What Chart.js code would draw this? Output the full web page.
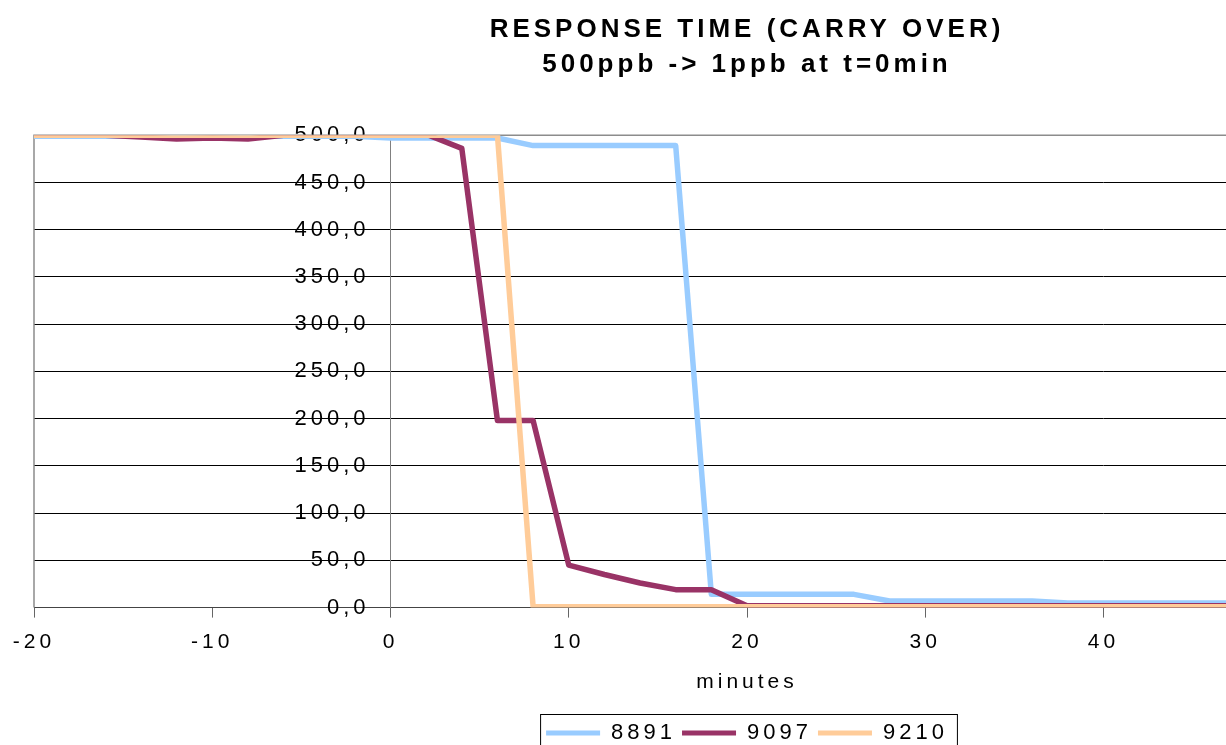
<!DOCTYPE html>
<html>
<head>
<meta charset="utf-8">
<title>Response time (carry over)</title>
<script src="https://cdn.jsdelivr.net/npm/chart.js@4.4.0/dist/chart.umd.min.js"></script>
<style>
  html, body { margin: 0; padding: 0; background: #fff; overflow: hidden; }
  /* the original chart is wider than the picture, its right part is cut off */
  #wrap { position: relative; width: 1498px; height: 760px; }
</style>
</head>
<body>
<div id="wrap"><canvas id="grafico"></canvas></div>
<script>
const minutos = [-20, -18, -16, -14, -12, -10, -8, -6, -4, -2, 0, 2, 4, 6, 8, 10, 12, 14, 16, 18,
  20, 22, 24, 26, 28, 30, 32, 34, 36, 38, 40, 42, 44, 46, 48];

const serie8891 = [499, 499, 499, 499, 499, 499, 499, 499, 499, 499, 497, 497, 497, 497,
  489, 489, 489, 489, 489, 14, 14, 14, 14, 14, 7, 7, 7, 7, 7, 5, 5, 5, 5, 5, 5];
const serie9097 = [500, 500, 500, 498, 496, 497, 496, 500, 501, 501, 501, 501, 486, 198, 198,
  45, 35, 26, 19, 19, 2, 2, 2, 2, 2, 2, 2, 2, 2, 2, 2, 2, 2, 2, 2];
const serie9210 = [500, 500, 500, 500, 500, 500, 500, 500, 500, 500, 500, 500, 500, 500,
  1, 1, 1, 1, 1, 1, 1, 1, 1, 1, 1, 1, 1, 1, 1, 1, 1, 1, 1, 1, 1];

const nomes = ['8891', '9097', '9210'];
const cores = ['#99CCFF', '#993366', '#FFCC99'];
const tituloLinhas = ['RESPONSE TIME (CARRY OVER)', '500ppb -> 1ppb at t=0min'];

Chart.defaults.font.family = "'Liberation Sans', Arial, sans-serif";
Chart.defaults.color = '#000';

// espacamento entre letras, como no grafico original
const espacamento = {
  id: 'espacamento',
  beforeLayout(chart) { chart.ctx.letterSpacing = '4px'; },
  beforeDraw(chart) { chart.ctx.letterSpacing = '4px'; }
};

// o eixo y fica em x=0; afasta os rotulos da linha do eixo
const rotulosY = {
  id: 'rotulosY',
  afterUpdate(chart) {
    const s = chart.scales.y;
    s.getLabelItems(chart.chartArea).forEach(it => { it.options.translation[0] -= 21; });
  }
};

// borda da area do grafico (esquerda e topo)
const bordaArea = {
  id: 'bordaArea',
  beforeDatasetsDraw(chart) {
    const { ctx, chartArea } = chart;
    ctx.save();
    ctx.strokeStyle = '#8c8c8c';
    ctx.lineWidth = 1.5;
    ctx.beginPath();
    ctx.moveTo(chartArea.left, chartArea.bottom);
    ctx.lineTo(chartArea.left, chartArea.top);
    ctx.lineTo(chartArea.right, chartArea.top);
    ctx.stroke();
    ctx.restore();
  }
};

// caixa em volta da legenda
const caixaLegenda = {
  id: 'caixaLegenda',
  afterDraw(chart) {
    const lg = chart.legend;
    if (!lg || !lg.legendHitBoxes.length) return;
    const hb = lg.legendHitBoxes;
    const esq = Math.min(...hb.map(b => b.left)) - 6;
    const dir = Math.max(...hb.map(b => b.left + b.width)) + 9;
    const ctx = chart.ctx;
    ctx.save();
    ctx.strokeStyle = '#000';
    ctx.lineWidth = 1;
    ctx.strokeRect(esq + 0.5, lg.top - 1.5, dir - esq, lg.height + 12);
    ctx.restore();
  }
};

const series = [serie8891, serie9097, serie9210];

const ctx = document.getElementById('grafico').getContext('2d');
new Chart(ctx, {
  type: 'line',
  data: {
    datasets: series.map((s, i) => ({
      label: nomes[i],
      data: minutos.map((m, j) => ({ x: m, y: s[j] })),
      borderColor: cores[i],
      backgroundColor: cores[i],
      borderWidth: 5.5,
      pointRadius: 0,
      tension: 0,
      borderJoinStyle: 'round',
      order: 3 - i
    }))
  },
  options: {
    responsive: true,
    maintainAspectRatio: false,
    animation: false,
    layout: { padding: { left: 34, right: 38, top: 0, bottom: 6 } },
    plugins: {
      title: {
        display: true,
        text: tituloLinhas,
        font: { size: 26, weight: 'bold', lineHeight: 1.35 },
        padding: { top: 12, bottom: 53 }
      },
      legend: {
        position: 'bottom',
        labels: {
          boxWidth: 54,
          boxHeight: 5,
          padding: 6,
          font: { size: 22 },
          sort: (a, b) => a.datasetIndex - b.datasetIndex,
          generateLabels: chart => Chart.defaults.plugins.legend.labels.generateLabels(chart)
            .map(l => ({ ...l, lineWidth: 0, fillStyle: l.strokeStyle }))
        }
      },
      tooltip: { enabled: false }
    },
    scales: {
      x: {
        type: 'linear',
        min: -20,
        max: 60,
        ticks: { stepSize: 10, padding: 12, font: { size: 21 } },
        afterBuildTicks: axis => { axis.ticks = axis.ticks.filter(t => t.value <= 45); },
        grid: { drawOnChartArea: false, drawTicks: true, tickLength: 10, color: '#666' },
        border: { color: '#444', width: 1 },
        title: { display: true, text: 'minutes', font: { size: 21 }, padding: { top: 3, bottom: 21 } }
      },
      y: {
        type: 'linear',
        min: 0,
        max: 500,
        position: { x: 0 },
        ticks: {
          stepSize: 50,
          font: { size: 22 },
          callback: v => v.toFixed(1).replace('.', ',')
        },
        grid: { color: '#000', lineWidth: 1, tickLength: 10 },
        border: { color: '#808080', width: 1 }
      }
    }
  },
  plugins: [espacamento, rotulosY, bordaArea, caixaLegenda]
});
</script>
</body>
</html>
